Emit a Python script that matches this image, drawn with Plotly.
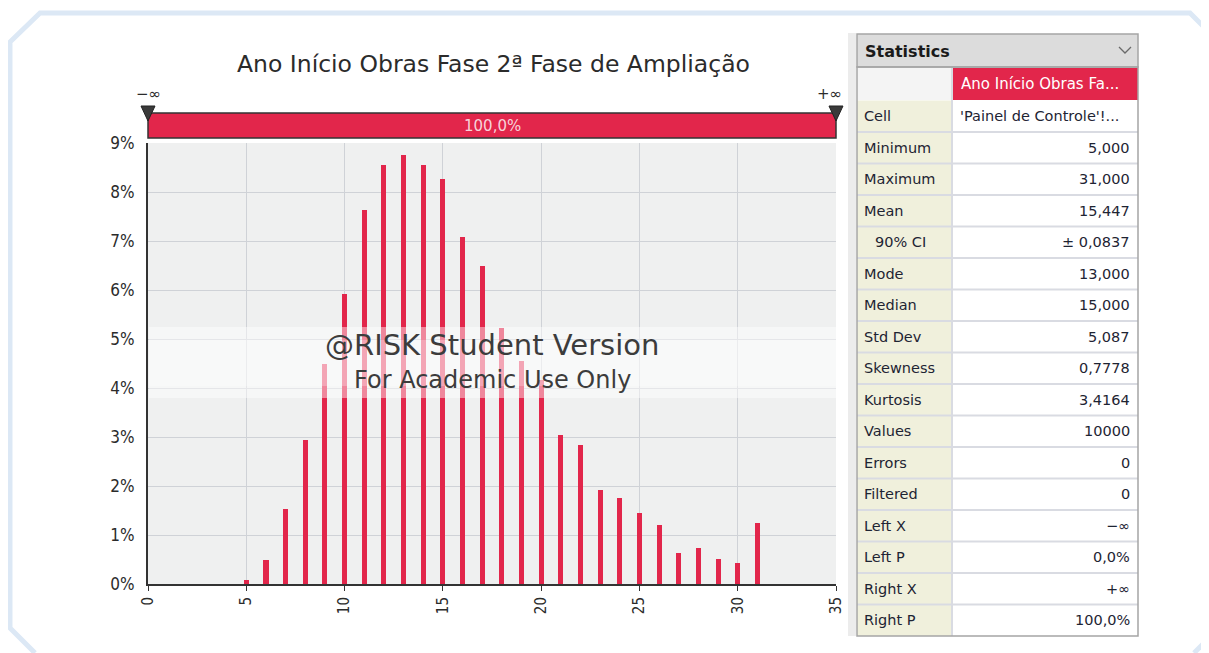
import plotly.graph_objects as go

W, H = 1209, 653

# ---------------- data ----------------
title_text = "Ano Início Obras Fase 2ª Fase de Ampliação"
x_values = list(range(5, 32))
prob_pct = [0.08, 0.49, 1.54, 2.94, 4.49, 5.92, 7.63, 8.55, 8.76, 8.55,
            8.27, 7.09, 6.48, 5.23, 4.56, 4.16, 3.04, 2.84, 1.92, 1.75,
            1.44, 1.20, 0.63, 0.73, 0.52, 0.42, 1.24]
x_ticks = [0, 5, 10, 15, 20, 25, 30, 35]
y_ticks = list(range(0, 10))
y_tick_labels = [f"{v}%" for v in y_ticks]
band_label = "100,0%"
left_mark, right_mark = "−∞", "+∞"
watermark_1 = "@RISK Student Version"
watermark_2 = "For Academic Use Only"

stats_header = "Statistics"
stats_column = "Ano Início Obras Fa..."
stat_labels = ["Cell", "Minimum", "Maximum", "Mean", "90% CI", "Mode", "Median",
               "Std Dev", "Skewness", "Kurtosis", "Values", "Errors", "Filtered",
               "Left X", "Left P", "Right X", "Right P"]
stat_values = ["'Painel de Controle'!...", "5,000", "31,000", "15,447", "± 0,0837",
               "13,000", "15,000", "5,087", "0,7778", "3,4164", "10000", "0", "0",
               "−∞", "0,0%", "+∞", "100,0%"]

# ---------------- styling ----------------
FONT = "DejaVu Sans, sans-serif"
FONTC = "DejaVu Sans Condensed, DejaVu Sans, sans-serif"
RED = "#e2264b"
TXT = "#2b2b2b"
OX, OY = 8, 8  # page offset of the figure (body margin)


def px(x):
    return (x - OX) / W


def py(y):
    return 1 - (y - OY) / H


def note(x, y, text, size, color=TXT, xa="center", ya="middle", family=FONT):
    return dict(x=px(x), y=py(y), xref="paper", yref="paper", text=text,
                showarrow=False, xanchor=xa, yanchor=ya,
                font=dict(family=family, size=size, color=color))


PL, PR, PT, PB = 148, 836, 143, 584

fig = go.Figure()
fig.add_trace(go.Bar(x=x_values, y=prob_pct, width=0.26,
                     marker=dict(color=RED, line=dict(width=0)),
                     hoverinfo="x+y"))

shapes = []
annos = []

# outer light-blue frame
frame = [(35, 653), (10, 628), (10, 42), (40, 13), (1190, 13), (1209, 32)]
path = "M " + " L ".join(f"{px(a):.5f},{py(b):.5f}" for a, b in frame)
shapes.append(dict(type="path", xref="paper", yref="paper", path=path,
                   line=dict(color="#dce8f5", width=5)))
path2 = f"M {px(1209):.5f},{py(638):.5f} L {px(1194):.5f},{py(653):.5f}"
shapes.append(dict(type="path", xref="paper", yref="paper", path=path2,
                   line=dict(color="#dce8f5", width=5)))

# red probability band
shapes.append(dict(type="rect", xref="paper", yref="paper",
                   x0=px(PL), x1=px(PR), y0=py(138), y1=py(113),
                   fillcolor=RED, line=dict(color="#333333", width=1.5)))
annos.append(note((PL + PR) / 2, 126, band_label, 15, "#f7d3da"))
for cx in (PL, PR):
    tri = (f"M {px(cx-7):.5f},{py(106):.5f} L {px(cx+7):.5f},{py(106):.5f} "
           f"L {px(cx):.5f},{py(121):.5f} Z")
    shapes.append(dict(type="path", xref="paper", yref="paper", path=tri,
                       fillcolor="#3a3a3a", line=dict(color="#222222", width=1)))
annos.append(note(148, 94, left_mark, 15))
annos.append(note(829, 94, right_mark, 15))

# title
annos.append(note(493, 64, title_text, 23.5))

# watermark band
shapes.append(dict(type="rect", xref="paper", yref="paper", layer="above",
                   x0=px(PL + 1), x1=px(PR), y0=py(398), y1=py(327),
                   fillcolor="rgba(255,255,255,0.45)", line=dict(width=0)))
shapes.append(dict(type="rect", xref="paper", yref="paper", layer="above",
                   x0=px(PL + 1), x1=px(PR), y0=py(386), y1=py(340),
                   fillcolor="rgba(255,255,255,0.25)", line=dict(width=0)))
annos.append(note(492, 345, watermark_1, 29, "#3c3c3c"))
annos.append(note(492, 380, watermark_2, 24, "#3c3c3c"))

# ---------------- statistics table ----------------
TL, TM, TR = 857, 952, 1138
TFS = 14.5
shapes.append(dict(type="rect", xref="paper", yref="paper",
                   x0=px(848), x1=px(856), y0=py(636), y1=py(33),
                   fillcolor="#ececec", line=dict(width=0)))
shapes.append(dict(type="rect", xref="paper", yref="paper",
                   x0=px(TL), x1=px(TR), y0=py(67), y1=py(34),
                   fillcolor="#dcdcdc", line=dict(color="#a5a5a5", width=1.5)))
annos.append(note(863, 51, f"<b>{stats_header}</b>", 16, "#1a1a1a", xa="left"))
chev = (f"M {px(1119):.5f},{py(47):.5f} L {px(1125):.5f},{py(53):.5f} "
        f"L {px(1131):.5f},{py(47):.5f}")
shapes.append(dict(type="path", xref="paper", yref="paper", path=chev,
                   line=dict(color="#6a6a6a", width=1.3)))
shapes.append(dict(type="rect", xref="paper", yref="paper",
                   x0=px(TL), x1=px(TM), y0=py(100), y1=py(68),
                   fillcolor="#f4f4f4", line=dict(width=0)))
shapes.append(dict(type="rect", xref="paper", yref="paper",
                   x0=px(TM + 1), x1=px(TR), y0=py(100), y1=py(68),
                   fillcolor=RED, line=dict(width=0)))
annos.append(note(959, 84, stats_column, 15, "#ffffff", xa="left"))

ROW0, RH = 100.5, 31.5
n = len(stat_labels)
tbottom = ROW0 + n * RH
shapes.append(dict(type="rect", xref="paper", yref="paper",
                   x0=px(TL), x1=px(TM), y0=py(tbottom), y1=py(ROW0),
                   fillcolor="#f0f0dc", line=dict(width=0)))
shapes.append(dict(type="rect", xref="paper", yref="paper",
                   x0=px(TM + 1), x1=px(TR), y0=py(tbottom), y1=py(ROW0),
                   fillcolor="#ffffff", line=dict(width=0)))
for i in range(1, n):
    yy = ROW0 + i * RH
    shapes.append(dict(type="line", xref="paper", yref="paper",
                       x0=px(TL), x1=px(TR), y0=py(yy), y1=py(yy),
                       line=dict(color="#d9dbe2", width=2)))
shapes.append(dict(type="line", xref="paper", yref="paper",
                   x0=px(TM), x1=px(TM), y0=py(tbottom), y1=py(68),
                   line=dict(color="#d9dbe2", width=2)))
shapes.append(dict(type="rect", xref="paper", yref="paper",
                   x0=px(TL), x1=px(TR), y0=py(tbottom), y1=py(67),
                   fillcolor="rgba(0,0,0,0)", line=dict(color="#a5a5a5", width=1.5)))

for i, (lab, val) in enumerate(zip(stat_labels, stat_values)):
    yc = ROW0 + (i + 0.5) * RH
    lx = 873 if lab == "90% CI" else 862
    annos.append(note(lx, yc, lab, TFS, "#1e2433", xa="left"))
    if i == 0:
        annos.append(note(958, yc, val, TFS, "#1e2433", xa="left"))
    else:
        annos.append(note(1132, yc, val, TFS, "#1e2433", xa="right"))

fig.update_layout(
    template="none",
    width=W, height=H, autosize=False,
    margin=dict(l=0, r=0, t=0, b=0, pad=0, autoexpand=False),
    paper_bgcolor="#ffffff",
    plot_bgcolor="#eff0f0",
    showlegend=False,
    bargap=0,
    shapes=shapes,
    annotations=annos,
    xaxis=dict(domain=[px(PL), px(PR)], range=[0, 35], tickvals=x_ticks,
               ticktext=[str(t) for t in x_ticks], tickangle=-90,
               showgrid=True, gridcolor="#cfd2d7", gridwidth=1,
               showline=True, linecolor="#333333", linewidth=2,
               ticks="outside", ticklen=5, tickcolor="#333333",
               zeroline=False, automargin=False,
               tickfont=dict(family=FONTC, size=15, color=TXT)),
    yaxis=dict(domain=[py(PB), py(PT)], range=[0, 9], tickvals=y_ticks,
               ticktext=y_tick_labels, showgrid=True, gridcolor="#cfd2d7",
               gridwidth=1, showline=True, linecolor="#333333", linewidth=2,
               ticks="", zeroline=False, automargin=False,
               ticklabelstandoff=8,
               tickfont=dict(family=FONTC, size=17, color=TXT)),
)

fig.write_html("out.html")
